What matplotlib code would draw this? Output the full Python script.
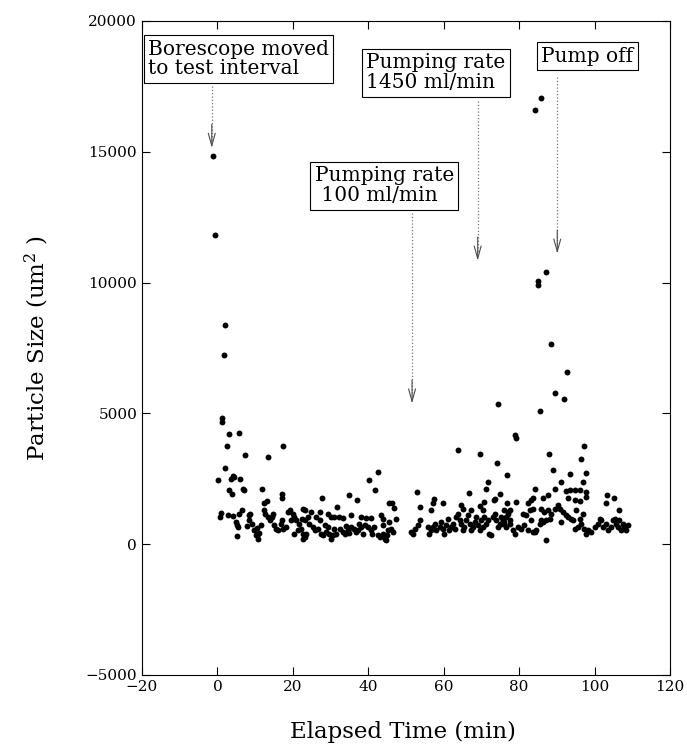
import matplotlib
matplotlib.use("Agg")
from matplotlib import pyplot as plt

plt.rcParams['font.family'] = ['DejaVu Serif']
plt.rcParams['mathtext.fontset'] = 'dejavuserif'

# isolated large readings (peaks after each event)
t_peaks = [-1.2, -0.7, 1.9, 1.8, 1.1, 1.2, 3.1, 5.6, 2.5, 17.3,
           87.0, 84.9, 85.0, 88.4, 92.8, 89.6, 92.0, 74.3, 85.4, 79.0,
           79.1, 97.1, 63.9, 85.7, 84.1]
s_peaks = [14820, 11830, 8385, 7227, 4820, 4670, 4200, 4263, 3766, 3766,
           10390, 10050, 9925, 7660, 6577, 5790, 5560, 5355, 5077, 4187,
           4057, 3766, 3613, 17060, 16600]

# 0 - 32 min
t_early = [7.2, 13.5, 1.9, 0.2, 3.6, 4.1, 4.3, 6.0, 3.0, 3.9, 6.9, 7.0, 11.8, 17.1,
           17.0, 13.1, 12.3, 27.7, 0.9, 0.6, 2.7, 4.2, 5.8, 6.4, 8.5, 8.7, 5.0, 5.2,
           5.4, 5.2, 7.8, 8.3, 9.1, 9.8, 10.3, 10.7, 10.8, 10.4, 11.6, 11.0, 12.4,
           12.6, 13.3, 14.0, 14.7, 14.5, 15.1, 15.6, 16.0, 16.9, 17.5, 18.2, 17.2,
           18.6, 19.2, 20.0, 20.4, 19.6, 20.9, 21.6, 20.2, 21.3, 22.2, 22.6, 23.2,
           22.5, 23.1, 22.6, 23.5, 23.3, 22.8, 24.0, 24.8, 24.4, 25.3, 25.9, 26.6,
           26.2, 27.1, 27.1, 29.3, 27.5, 27.9, 28.8, 29.7, 30.1, 30.6, 31.5, 31.0,
           28.4, 29.3, 31.0, 31.6, 32.1]
s_early = [3397, 3346, 2926, 2468, 2506, 2596, 2560, 2481, 2061, 1909, 2125, 2080, 2112, 1909,
           1768, 1667, 1565, 1756, 1196, 1056, 1132, 1081, 1145, 1323, 1132, 1150, 852, 725,
           661, 318, 687, 916, 789, 534, 343, 216, 407, 636, 725, 445, 1298,
           1170, 1043, 916, 1170, 1043, 725, 598, 534, 789, 598, 662, 916,
           1234, 1298, 1170, 1043, 916, 916, 789, 407, 534, 598, 1361, 1323,
           980, 916, 407, 407, 280, 216, 1043, 1234, 789, 662, 534, 598,
           1043, 916, 1234, 1170, 407, 343, 471, 407, 216, 343, 407, 598,
           725, 662, 1043, 1425, 1043]

# 30 - 48 min
t_mid = [42.7, 40.1, 41.9, 34.8, 37.0, 45.4, 46.2, 46.7, 30.2, 33.2, 35.5, 38.1,
         39.4, 40.8, 43.4, 43.9, 45.6, 47.4, 32.4, 33.2, 34.6, 35.5, 36.3, 37.2,
         38.1, 39.0, 39.9, 40.8, 41.6, 42.5, 43.0, 43.9, 44.3, 44.7, 45.2, 46.1,
         46.5, 43.9, 33.8, 35.0, 36.8, 38.6, 41.0, 34.2, 37.6, 45.0]
s_mid = [2748, 2455, 2074, 1896, 1692, 1578, 1578, 1387, 1043, 1018, 1107, 1043,
         1005, 1018, 1107, 980, 852, 980, 598, 471, 534, 662, 598, 534,
         662, 725, 662, 534, 662, 343, 280, 407, 216, 153, 534, 598,
         471, 725, 380, 420, 450, 400, 390, 700, 760, 340]

# 51 - 63 min
t_low = [53.0, 53.7, 57.5, 57.1, 56.7, 59.8, 51.4, 51.8, 52.3, 53.1, 53.6, 55.8,
         56.2, 56.7, 57.1, 57.6, 58.0, 58.9, 59.3, 59.8, 60.2, 60.6, 61.1, 61.5,
         62.0, 62.4, 62.9]
s_low = [1985, 1438, 1730, 1578, 1323, 1565, 471, 407, 598, 725, 916, 662,
         407, 534, 662, 789, 534, 662, 852, 598, 407, 725, 980, 534,
         662, 789, 598]

# 63 - 78 min
t_fast = [69.6, 74.2, 76.9, 66.8, 71.8, 71.3, 73.5, 73.2, 74.8, 70.8, 76.7, 64.6,
          65.1, 67.3, 69.5, 70.4, 63.3, 63.8, 64.2, 64.6, 65.1, 65.5, 66.0, 66.4,
          66.9, 67.3, 67.7, 68.2, 68.6, 69.1, 69.5, 69.9, 70.4, 70.8, 71.3, 71.7,
          72.1, 72.6, 73.0, 73.5, 73.9, 74.4, 74.8, 75.3, 75.7, 76.1, 76.6, 77.0,
          77.5]
s_fast = [3461, 3104, 2634, 1959, 2367, 2125, 1743, 1680, 1909, 1616, 1578, 1489,
          1361, 1298, 1450, 1298, 1043, 1170, 916, 789, 534, 662, 916, 1107,
          789, 534, 662, 852, 1043, 725, 534, 916, 662, 1043, 789, 916,
          407, 343, 1043, 1170, 916, 662, 789, 1043, 916, 789, 1043, 1170,
          916]

# 75 - 109 min
t_late = [87.9, 96.5, 89.1, 93.6, 97.6, 96.9, 91.2, 84.3, 89.4, 92.5, 93.4, 94.7,
          96.0, 97.6, 86.3, 87.6, 93.0, 94.7, 96.0, 97.8, 103.3, 105.1, 103.1, 106.6,
          79.2, 82.3, 83.2, 83.6, 76.1, 77.0, 77.5, 81.0, 81.9, 82.8, 83.6,
          85.9, 86.7, 87.6, 88.4, 89.4, 90.3, 90.7, 91.6, 92.5, 92.9, 93.8, 94.2,
          95.1, 96.0, 96.9, 75.2, 76.1, 76.6, 77.5, 78.3, 78.8, 79.7, 80.5, 81.4,
          82.3, 83.2, 83.6, 84.1, 84.5, 85.4, 85.9, 86.3, 87.2, 88.1, 87.2, 91.2,
          94.7, 95.6, 96.5, 97.3, 97.8, 98.2, 99.1, 100.0, 100.9, 101.3, 101.8, 102.2,
          103.1, 103.5, 104.4, 104.9, 105.3, 105.7, 106.2, 106.6, 107.1, 107.5, 107.9,
          108.4, 108.8]
s_late = [3435, 3244, 2825, 2697, 2723, 2379, 2379, 2125, 2125, 2023, 2061, 2061,
          2061, 1997, 1781, 1870, 1781, 1680, 1654, 1807, 1870, 1781, 1578, 1323,
          1603, 1578, 1680, 1781, 1298, 1234, 1323, 1170, 1107, 1298, 1361,
          1361, 1234, 1298, 1170, 1361, 1489, 1361, 1234, 1107, 1043, 980, 916,
          1298, 980, 1170, 789, 852, 662, 789, 534, 407, 662, 598, 725,
          534, 916, 471, 471, 534, 789, 916, 852, 916, 980, 153, 852,
          598, 662, 789, 598, 407, 534, 471, 662, 789, 980, 916, 662,
          789, 534, 662, 916, 980, 789, 662, 916, 534, 789, 662,
          534, 725]

# event notes: text, text x, text y, alignment, arrow x, arrow top, arrow tip
notes = [
    ("Borescope moved\nto test interval", -18.4, 18550, 'left', -1.5, 17500, 15150),
    ("Pumping rate\n 100 ml/min", 44.2, 13700, 'center', 51.6, 12650, 5380),
    ("Pumping rate\n1450 ml/min", 39.4, 18020, 'left', 69.0, 16950, 10840),
    ("Pump off", 98.1, 18660, 'center', 90.1, 17850, 11110),
]

fig = plt.figure(figsize=(6.87, 7.47), dpi=100)
ax = fig.add_axes([0.2067, 0.0964, 0.7686, 0.8755])

for t, s in [(t_peaks, s_peaks), (t_early, s_early), (t_mid, s_mid),
             (t_low, s_low), (t_fast, s_fast), (t_late, s_late)]:
    ax.scatter(t, s, s=18, color='black', linewidths=0, zorder=3)

for text, bx, by, ha, axx, top, tip in notes:
    ax.text(bx, by, text, ha=ha, va='center', fontsize=14.5,
            multialignment='left', linespacing=1.05,
            bbox=dict(boxstyle='square,pad=0.22', fc='white', ec='black', lw=0.8))
    ax.plot([axx, axx], [top, tip + 300], linestyle=':', color='0.45', lw=0.9)
    ax.annotate('', xy=(axx, tip), xytext=(axx, tip + 900),
                arrowprops=dict(arrowstyle='->,head_length=0.9,head_width=0.25',
                                color='0.3', lw=0.8, linestyle='-', shrinkA=0, shrinkB=0))

ax.set_xlim(-20, 120)
ax.set_ylim(-5000, 20000)
ax.set_xticks(range(-20, 121, 20))
ax.set_yticks(range(-5000, 20001, 5000))
ax.tick_params(direction='in', top=True, right=True, length=6, width=0.8, labelsize=11)
for sp in ax.spines.values():
    sp.set_linewidth(0.8)

ax.set_xlabel('Elapsed Time (min)', fontsize=16.5)
ax.set_ylabel('Particle Size (um$^{2}$ )', fontsize=16.5)
ax.xaxis.set_label_coords(0.494, -0.07)
ax.yaxis.set_label_coords(-0.172, 0.5)

fig.savefig('out.png', dpi=100)
